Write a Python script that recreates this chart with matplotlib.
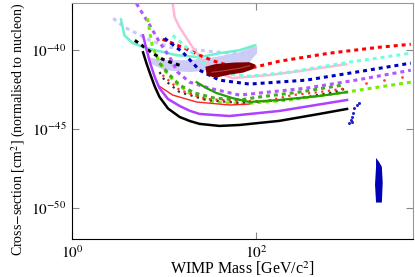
import numpy as np
import matplotlib
matplotlib.use("Agg")
import matplotlib.pyplot as plt

plt.rcParams["font.family"] = ["Liberation Serif", "DejaVu Serif"]
plt.rcParams["mathtext.fontset"] = "stix"

# WIMP mass [GeV] and log10(cross-section [cm^2])
black_solid_m = [5.9, 6.4, 7.0, 7.9, 8.9, 11.0, 14.7, 19.0, 24.2, 39.8, 65.5, 177, 480, 964]
black_solid_e = [-40.13, -40.8, -41.46, -42.3, -42.97, -43.7, -44.24, -44.5, -44.68, -44.81,
                 -44.75, -44.49, -44.05, -43.73]

purple_solid_m = [5.9, 6.4, 7.0, 7.9, 8.9, 11.0, 14.7, 19.0, 24.2, 51.1, 177, 964]
purple_solid_e = [-39.05, -39.9, -40.76, -41.7, -42.41, -43.1, -43.54, -43.85, -44.05, -44.18,
                  -43.86, -43.16]

red_solid_m = [8.5, 12.4, 22.5, 51.1, 84]
red_solid_e = [-42.22, -42.85, -43.29, -43.48, -43.42]

red_dot_m = [9.6, 14.7, 28.8, 65.5, 128, 245, 480, 964]
red_dot_e = [-41.58, -42.53, -43.10, -43.23, -43.23, -42.85, -42.66, -42.41]
red_sparse_m = [1545, 2420, 3790]
red_sparse_e = [-42.09, -41.90, -41.71]

black_dot_m = [8.9, 10.1, 14.7, 28.8, 65.5, 191, 356, 697, 964]
black_dot_e = [-41.39, -41.90, -42.66, -43.16, -43.35, -43.16, -42.97, -42.66, -42.41]

green_solid_m = [22.5, 28.8, 37.0, 55.0, 84, 177, 480, 964]
green_solid_e = [-42.03, -42.41, -42.72, -43.04, -43.29, -43.16, -42.91, -42.66]

green_dash_m = [8.9, 11.5, 14.7, 21.4, 35.2, 65.5, 108, 292, 851]
green_dash_e = [-40.82, -41.58, -42.22, -42.72, -43.04, -43.16, -42.97, -42.66, -42.22]

lime_dash_m = [6.6, 7.0, 7.5, 8.5, 10.1, 13.0, 18.9, 31.0, 65.5, 227, 940, 4740]
lime_dash_e = [-37.97, -38.92, -39.81, -40.51, -41.27, -42.03, -42.72, -43.23, -43.42, -43.16, -42.66, -42.03]

purple_dash_m = [5.0, 7.0, 8.9, 11.5, 14.0, 18.9, 31.0, 65.5, 347, 1205, 4740]
purple_dash_e = [-37.03, -38.42, -39.49, -40.44, -41.39, -42.03, -42.41, -42.85, -42.41, -41.90, -41.27]

blue_dash_m = [10.1, 15.9, 24.2, 39.8, 84, 347, 1205, 4740]
blue_dash_e = [-39.24, -40.13, -41.27, -41.90, -42.15, -41.90, -41.39, -40.82]

red_dash_m = [9.6, 16.7, 24.2, 35.2, 57.8, 95.1, 177, 615, 2138, 4740]
red_dash_e = [-39.30, -39.87, -40.32, -40.70, -41.08, -41.08, -40.70, -40.19, -39.81, -39.62]

cyan_dash_m = [12.4, 18.9, 27.4, 42.9, 84, 227, 1012, 4740]
cyan_dash_e = [-39.05, -40.0, -40.82, -41.46, -41.65, -41.39, -40.76, -40.19]

cyan_solid_m = [3.4, 3.7, 4.6, 6.5, 13.7, 24.2, 39.8, 65.5, 97.5]
cyan_solid_e = [-38.04, -39.05, -39.56, -39.87, -40.32, -40.44, -40.19, -40.0, -39.68]

lav_dash_m = [2.8, 3.7, 5.0, 7.0, 11.5, 24.2, 51.1, 84]
lav_dash_e = [-37.97, -38.54, -38.92, -39.37, -39.81, -40.0, -40.19, -40.19]

pink_m = [12.2, 13.0, 14.7, 20.3, 26.1, 37.0, 55.0, 138, 292, 940]
pink_e = [-36.8, -37.91, -38.54, -39.81, -40.63, -41.39, -41.77, -41.58, -41.33, -40.89]

black_dash_m = [4.8, 5.7, 7.5, 9.6, 12.4, 15.9]
black_dash_e = [-39.37, -39.68, -40.19, -40.57, -40.82, -41.01]

band_m = [6.5, 10.1, 18.9, 35.2, 65.5, 88, 102, 102, 84, 65.5, 51.1, 31, 18.9, 10.1, 7.0]
band_e = [-40.44, -40.63, -40.63, -40.44, -40.13, -39.81, -39.75, -40.19, -40.76, -41.39,
          -41.14, -41.27, -41.39, -41.27, -40.82]

maroon_m = [28, 36, 57.8, 84, 98, 92, 72, 51, 36, 29]
maroon_e = [-41.05, -40.88, -40.78, -40.76, -40.92, -41.2, -41.42, -41.55, -41.75, -41.6]
maroon_in_m = [33, 45, 65, 85]
maroon_in_e = [-41.4, -41.3, -41.15, -40.98]

blob_m = [1990, 2140, 2300, 2350, 2300, 1990, 1940, 1990]
blob_e = [-46.84, -47.09, -47.41, -48.42, -49.68, -49.68, -48.54, -47.41]

blue_pts_m = [1012, 1090, 1060, 1090, 1115, 1145, 1230, 1290]
blue_pts_e = [-44.62, -44.56, -44.43, -44.24, -43.99, -43.67, -43.48, -43.35]


def s(e):
    return 10.0 ** np.array(e)


fig = plt.figure(figsize=(4.15, 2.77), dpi=100)
ax = fig.add_axes([0.1735, 0.137, 0.8215, 0.852])

dot = (0, (1.3, 1.3))
ax.fill(band_m, s(band_e), color="#CCCCF6", lw=0, zorder=1)
ax.fill(maroon_m, s(maroon_e), color="#7A0000", lw=0, zorder=3)
ax.plot(maroon_in_m, s(maroon_in_e), color="#B04040", lw=0.8, zorder=3)
ax.fill(blob_m, s(blob_e), color="#0000B4", lw=0, zorder=3)

ax.plot(lav_dash_m, s(lav_dash_e), color="#C8C8FF", lw=2.2, ls=dot)
ax.plot(cyan_solid_m, s(cyan_solid_e), color="#70F0D0", lw=1.8)
ax.plot(pink_m, s(pink_e), color="#FFB8D8", lw=1.8)
ax.plot(red_dash_m, s(red_dash_e), color="#FF0000", lw=2.2, ls=dot)
ax.plot(cyan_dash_m, s(cyan_dash_e), color="#70FFDD", lw=2.2, ls=dot)
ax.plot(blue_dash_m, s(blue_dash_e), color="#0000C0", lw=2.2, ls=dot)
ax.plot(purple_dash_m, s(purple_dash_e), color="#B455FF", lw=2.2, ls=dot)
ax.plot(lime_dash_m, s(lime_dash_e), color="#77EE00", lw=2.2, ls=dot)
ax.plot(green_dash_m, s(green_dash_e), color="#44AA22", lw=2.2, ls=dot)
ax.plot(black_dash_m, s(black_dash_e), color="black", lw=2.2, ls=dot)
ax.plot(black_dot_m, s(black_dot_e), color="#333333", lw=1.6, ls=(0, (1, 2)))
ax.plot(red_dot_m, s(red_dot_e), color="#FF3333", lw=1.6, ls=(0, (1, 2)))
ax.plot(red_solid_m, s(red_solid_e), color="#FF2020", lw=1.0)
ax.plot(green_solid_m, s(green_solid_e), color="#22A000", lw=1.6)
ax.plot(purple_solid_m, s(purple_solid_e), color="#B040FF", lw=1.8)
ax.plot(black_solid_m, s(black_solid_e), color="black", lw=1.8)
ax.plot(red_sparse_m, s(red_sparse_e), "o", color="#FF4444", ms=2, mew=0)
ax.plot(blue_pts_m, s(blue_pts_e), "o", color="#2222CC", ms=2.2, mew=0)

ax.set_xscale("log")
ax.set_yscale("log")
ax.set_xlim(1, 5000)
ax.set_ylim(1e-52, 1e-37)
ax.set_xticks([1, 100])
ax.set_xticklabels([r"$10^{0}$", r"$10^{2}$"])
ax.set_yticks([1e-50, 1e-45, 1e-40])
ax.set_yticklabels([r"$10^{-50}$", r"$10^{-45}$", r"$10^{-40}$"])
ax.minorticks_off()
ax.tick_params(direction="in", length=5, top=True, right=True, labelsize=11,
               color="#888888", pad=4)

for side in ["top", "right"]:
    ax.spines[side].set_color("#999999")
for side in ["left", "bottom"]:
    ax.spines[side].set_color("black")

ax.set_xlabel(r"WIMP Mass [GeV/c$^2$]", fontsize=11.5, labelpad=-1)
ax.set_ylabel(r"Cross$-$section [cm$^2$] (normalised to nucleon)", fontsize=10, labelpad=1)
ax.yaxis.set_label_coords(-0.128, 0.465)

fig.savefig("out.png", dpi=100)
